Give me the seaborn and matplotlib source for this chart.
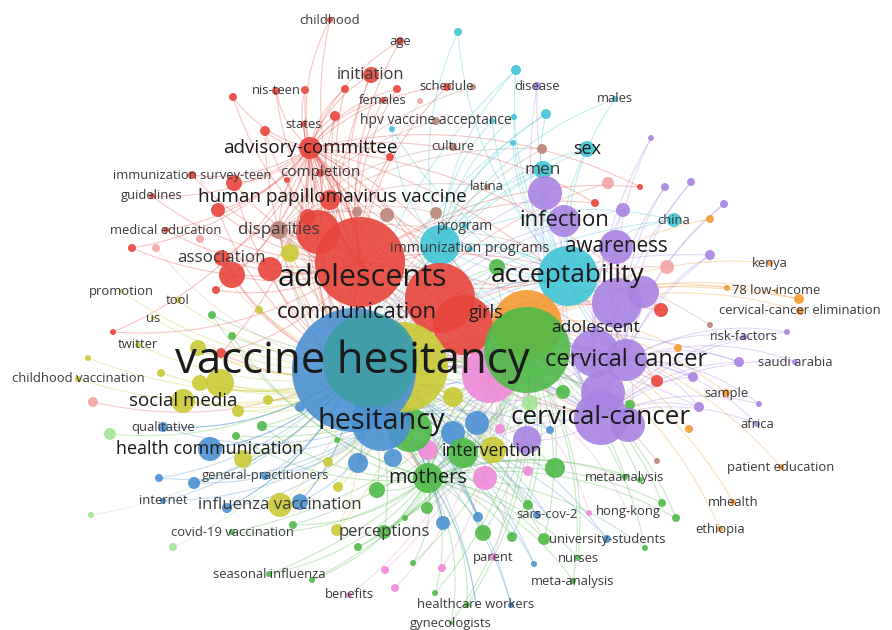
import numpy as np
import pandas as pd
import matplotlib
matplotlib.use("Agg")
import matplotlib.pyplot as plt
from matplotlib.collections import LineCollection
import seaborn as sns

# map coordinates of each keyword (x, y), node radius; hubs come first in each list
red_nodes = [
    ("", 360, 262, 45), ("advisory-committee", 310, 148, 11),
    ("", 440, 298, 35), ("", 463, 325, 30), ("", 318, 232, 22),
    ("adolescents", 362, 278, 5), ("girls", 486, 313, 3),
    ("", 330, 200, 10), ("", 308, 217, 8), ("", 270, 269, 12), ("", 232, 275, 13),
    ("association", 222, 258, 8), ("", 218, 210, 7), ("", 234, 183, 8),
    ("immunization survey-teen", 192, 175, 4), ("completion", 320, 173, 4),
    ("", 287, 180, 3), ("guidelines", 152, 196, 3), ("medical education", 166, 230, 3),
    ("", 132, 248, 4), ("", 216, 290, 4), ("", 113, 332, 3), ("", 221, 353, 5),
    ("", 265, 131, 5), ("states", 304, 124, 3), ("nis-teen", 276, 91, 4),
    ("", 233, 97, 4), ("", 305, 90, 4), ("", 345, 89, 4), ("", 335, 116, 5),
    ("initiation", 371, 75, 8), ("age", 400, 41, 4), ("childhood", 330, 20, 3),
    ("females", 383, 100, 3), ("", 397, 89, 4), ("schedule", 447, 87, 4),
    ("", 390, 157, 4), ("", 595, 203, 4), ("", 640, 187, 3), ("", 661, 310, 7),
    ("", 657, 381, 6), ("human papillomavirus vaccine", 332, 197, 3),
]
light_red_nodes = [
    ("", 420, 101, 3), ("", 200, 239, 4), ("", 156, 248, 4), ("", 93, 402, 5),
    ("", 608, 183, 6), ("", 667, 267, 7),
]
brown_nodes = [
    ("disparities", 279, 230, 9), ("", 357, 212, 5), ("", 387, 215, 7), ("", 436, 213, 6),
    ("culture", 453, 147, 4), ("", 542, 149, 5), ("hpv vaccine acceptance", 436, 121, 4),
    ("latina", 487, 187, 3), ("", 473, 87, 3), ("", 710, 325, 3), ("", 657, 461, 3),
]
cyan_nodes = [
    ("acceptability", 568, 276, 30), ("", 440, 245, 20),
    ("program", 465, 226, 3), ("immunization programs", 470, 249, 3),
    ("men", 543, 170, 9), ("sex", 587, 149, 8), ("china", 674, 220, 7),
    ("males", 615, 99, 3), ("", 458, 32, 4), ("", 516, 70, 5), ("", 514, 117, 3),
    ("", 546, 114, 5), ("", 513, 143, 3), ("", 392, 129, 3), ("", 492, 121, 3),
]
purple_nodes = [
    ("cervical-cancer", 601, 418, 27), ("cervical cancer", 626, 360, 21),
    ("", 617, 303, 25), ("", 643, 292, 16), ("", 595, 353, 24), ("", 603, 393, 22),
    ("", 628, 425, 17), ("awareness", 616, 247, 17), ("infection", 564, 221, 16),
    ("", 545, 193, 17), ("", 623, 210, 7), ("", 651, 138, 3), ("", 665, 187, 4),
    ("", 691, 182, 4), ("", 724, 204, 4), ("", 710, 255, 5), ("risk-factors", 744, 337, 3),
    ("", 787, 332, 3), ("", 739, 362, 5), ("saudi arabia", 795, 362, 3), ("", 693, 377, 5),
    ("", 699, 407, 5), ("", 759, 404, 3), ("africa", 757, 424, 3), ("disease", 537, 86, 4),
    ("", 527, 440, 14), ("adolescent", 596, 328, 3),
]
orange_nodes = [
    ("", 527, 325, 35), ("kenya", 770, 263, 3), ("", 727, 288, 3),
    ("78 low-income", 776, 291, 2), ("", 799, 299, 5), ("cervical-cancer elimination", 800, 311, 4),
    ("", 710, 219, 4), ("", 678, 348, 4), ("sample", 726, 393, 4), ("", 689, 429, 4),
    ("patient education", 781, 467, 3), ("mhealth", 733, 502, 3), ("ethiopia", 720, 529, 3),
]
green_nodes = [
    ("", 527, 350, 43), ("mothers", 428, 478, 15),
    ("", 410, 430, 22), ("", 463, 453, 15), ("", 555, 468, 10), ("metaanalysis", 625, 477, 3),
    ("", 563, 392, 7), ("", 630, 405, 5), ("", 497, 267, 8), ("", 377, 490, 8),
    ("perceptions", 384, 532, 7), ("", 293, 525, 4), ("", 358, 547, 4),
    ("covid-19 vaccination", 232, 532, 3), ("seasonal influenza", 269, 574, 3), ("", 312, 580, 3),
    ("", 212, 315, 4), ("", 232, 336, 4), ("", 236, 436, 4), ("", 262, 426, 5),
    ("", 427, 508, 6), ("", 405, 518, 3), ("", 483, 533, 8), ("", 512, 537, 5),
    ("", 528, 505, 5), ("", 544, 539, 6), ("", 413, 563, 3), ("", 435, 593, 3),
    ("nurses", 578, 558, 3), ("meta-analysis", 573, 581, 3), ("", 662, 503, 4),
    ("", 676, 518, 4), ("", 645, 548, 3), ("", 640, 480, 3), ("gynecologists", 451, 623, 2),
    ("", 467, 605, 3), ("", 337, 440, 3),
]
light_green_nodes = [
    ("", 110, 434, 6), ("", 91, 515, 3), ("", 173, 547, 4), ("", 530, 403, 8),
]
blue_nodes = [
    ("", 354, 370, 62), ("hesitancy", 381, 421, 30),
    ("health communication", 210, 449, 12), ("vaccine hesitancy", 352, 362, 3),
    ("qualitative", 163, 427, 5),
    ("", 159, 478, 4), ("", 194, 483, 6), ("", 300, 407, 5), ("internet", 163, 501, 3),
    ("", 227, 508, 5), ("", 300, 502, 8), ("", 358, 463, 10), ("", 393, 458, 9),
    ("", 477, 423, 12), ("", 453, 433, 12), ("", 550, 430, 4), ("", 537, 515, 4),
    ("sars-cov-2", 547, 515, 1), ("", 443, 523, 7), ("", 478, 517, 5),
    ("university-students", 607, 539, 4), ("", 534, 564, 3), ("healthcare workers", 476, 605, 1),
    ("", 511, 605, 3), ("general-practitioners", 265, 476, 4),
]
teal_nodes = [("", 370, 360, 47)]
yellow_nodes = [
    ("", 403, 367, 45), ("social media", 183, 401, 12), ("", 220, 383, 14),
    ("", 200, 383, 8), ("", 290, 253, 9), ("", 259, 310, 4), ("", 198, 348, 8),
    ("", 88, 358, 3), ("", 161, 373, 4), ("", 238, 411, 6), ("", 268, 400, 5),
    ("", 243, 459, 9), ("influenza vaccination", 280, 505, 12), ("", 337, 530, 6),
    ("", 328, 462, 5), ("", 338, 487, 5), ("", 493, 450, 13), ("", 453, 397, 10),
    ("promotion", 121, 291, 2), ("tool", 178, 300, 3), ("us", 153, 318, 2),
    ("twitter", 138, 345, 3), ("childhood vaccination", 78, 379, 3),
    ("communication", 357, 312, 3), ("intervention", 492, 451, 3),
]
pink_nodes = [
    ("", 490, 375, 28), ("", 485, 478, 12), ("", 428, 450, 10), ("", 528, 471, 5),
    ("", 500, 429, 5), ("", 589, 513, 3), ("hong-kong", 628, 512, 1), ("parent", 493, 557, 4),
    ("", 442, 568, 4), ("", 385, 570, 4), ("", 395, 588, 4), ("benefits", 349, 595, 3),
]

clusters = {
    "red": red_nodes, "light red": light_red_nodes, "brown": brown_nodes,
    "cyan": cyan_nodes, "purple": purple_nodes, "orange": orange_nodes,
    "green": green_nodes, "light green": light_green_nodes, "blue": blue_nodes,
    "yellow": yellow_nodes, "pink": pink_nodes, "teal": teal_nodes,
}
n_hubs = {"red": 2, "light red": 0, "brown": 1, "cyan": 2, "purple": 2, "orange": 1,
          "green": 2, "light green": 0, "blue": 2, "teal": 0, "yellow": 1, "pink": 1}

palette = {
    "red": "#e8453c", "light red": "#f3a3a3", "brown": "#b98576", "cyan": "#3fc5d6",
    "purple": "#a883e2", "orange": "#f49a32", "green": "#4fba48", "light green": "#a3e495",
    "blue": "#4b91d2", "teal": "#3f9ea6", "yellow": "#c9c935", "pink": "#ef8ad8",
}

label_pt = {
    "vaccine hesitancy": 31.5, "adolescents": 22, "acceptability": 19, "hesitancy": 20.8,
    "cervical-cancer": 18.7, "cervical cancer": 17, "communication": 15.8, "awareness": 14.9,
    "infection": 15.8, "mothers": 14.4, "human papillomavirus vaccine": 13.7,
    "advisory-committee": 13.6, "social media": 13.5, "health communication": 12.9,
    "disparities": 12.2, "association": 12.2, "intervention": 12.7, "adolescent": 12.6,
    "girls": 13, "men": 12.4, "influenza vaccination": 12.1, "perceptions": 12,
    "initiation": 11.9, "sex": 13, "completion": 11, "hpv vaccine acceptance": 10,
    "immunization programs": 10.2, "program": 10,
}

rows = []
for name, nodes in clusters.items():
    for k, (label, x, y, r) in enumerate(nodes):
        rows.append(dict(label=label, x=x, y=y, r=r, cluster=name, hub=k < n_hubs[name]))
df = pd.DataFrame(rows)
df["area"] = (2 * df["r"] * 0.72) ** 2

# links: every node to the hubs of its cluster, hubs to each other, larger nodes to the main hub
main_hub = df["r"].idxmax()
edges = []
for c in clusters:
    hubs = df.index[(df["cluster"] == c) & df["hub"]]
    for i in df.index[df["cluster"] == c]:
        for h in hubs:
            if i != h:
                edges.append((i, h))
        if len(hubs) == 0 and i != main_hub and c != "teal":
            edges.append((i, main_hub))
all_hubs = df.index[df["hub"]]
for a in all_hubs:
    for b in all_hubs:
        if a < b:
            edges.append((a, b))
for i in df.index[(df["r"] >= 5) & ~df["hub"]]:
    edges.append((i, main_hub))

segs, cols = [], []
t = np.linspace(0, 1, 30)[:, None]
for i, j in edges:
    p0 = df.loc[i, ["x", "y"]].to_numpy(float)
    p1 = df.loc[j, ["x", "y"]].to_numpy(float)
    d = p1 - p0
    ctrl = (p0 + p1) / 2 + 0.18 * np.array([-d[1], d[0]])
    segs.append((1 - t) ** 2 * p0 + 2 * (1 - t) * t * ctrl + t ** 2 * p1)
    cols.append(palette[df.loc[i, "cluster"]])

sns.set_theme(style="white")
plt.rcParams["font.family"] = ["Open Sans", "DejaVu Sans"]

fig = plt.figure(figsize=(8.92, 6.3), dpi=100)
ax = fig.add_axes([0, 0, 1, 1])
ax.add_collection(LineCollection(segs, colors=cols, linewidths=0.75, alpha=0.33, zorder=1))

# larger circles on top, the teal overlay last
order = df.assign(last=df["cluster"] == "teal").sort_values(["last", "r"], kind="stable")
sns.scatterplot(data=order, x="x", y="y", hue="cluster", palette=palette,
                size="area", sizes=(order["area"].min(), order["area"].max()),
                size_norm=(order["area"].min(), order["area"].max()),
                alpha=0.9, edgecolor="none", legend=False, ax=ax, zorder=2)

for _, row in df[df["label"] != ""].iterrows():
    fs = label_pt.get(row["label"], 9.4)
    ax.text(row["x"], row["y"], row["label"], fontsize=fs, ha="center", va="center",
            color="#1a1a1a" if fs > 12.5 else "#3a3a3a", zorder=3)

ax.set_xlim(0, 892)
ax.set_ylim(630, 0)
ax.axis("off")
fig.savefig("out.png", dpi=100, facecolor="white")
